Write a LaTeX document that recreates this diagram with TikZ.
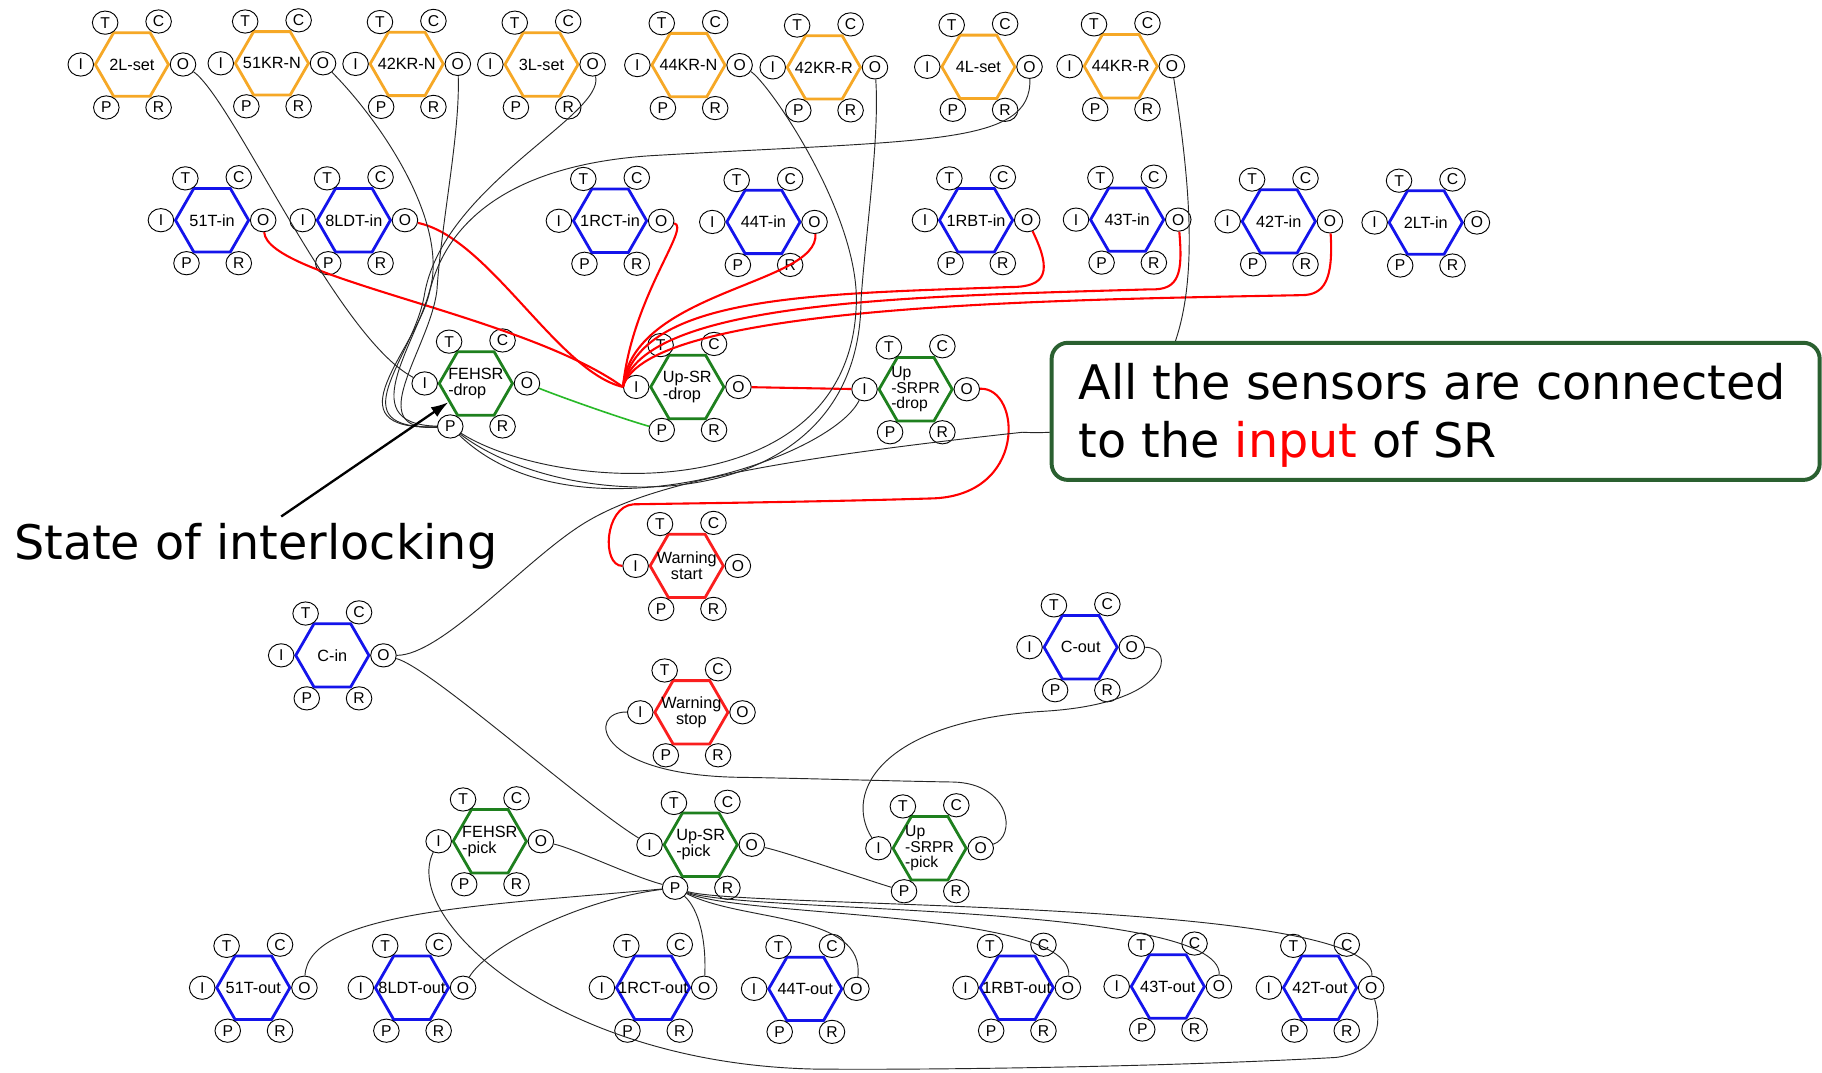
\documentclass[tikz,border=0pt]{standalone}
\usepackage{fontspec}
\newfontfamily\hexfont{Liberation Sans}
\newfontfamily\notefont{DejaVu Sans}
\usetikzlibrary{shapes.geometric, arrows.meta}
\definecolor{hexorange}{RGB}{246,168,38}
\definecolor{hexblue}{RGB}{20,20,235}
\definecolor{hexgreen}{RGB}{30,128,30}
\definecolor{hexred}{RGB}{250,30,30}
\definecolor{linkgreen}{RGB}{40,185,40}
\definecolor{boxgreen}{RGB}{42,96,48}
\tikzset{
  hexa/.style    = {regular polygon, regular polygon sides=6, minimum size=63pt,
                    inner sep=0pt, line width=2.4pt},
  hexlbl/.style  = {inner sep=0pt, font=\hexfont\fontsize{14}{14}\selectfont},
  tight/.style   = {font=\hexfont\fontsize{13.5}{13}\selectfont},
  port/.style    = {draw, ellipse, minimum width=22pt, minimum height=20pt, inner sep=0pt,
                    fill=white, line width=0.8pt, font=\hexfont\fontsize{13.5}{13.5}\selectfont},
  wire/.style    = {draw=black!85, line width=0.8pt},
  sig/.style     = {draw=red, line width=1.8pt},
  grnwire/.style = {draw=linkgreen, line width=1.4pt},
  pointer/.style = {-{Latex[length=15pt, width=10pt]}, line width=2pt},
  notefrm/.style = {draw=boxgreen, line width=3.4pt, rounded corners=14pt, fill=white,
                    minimum width=661pt, minimum height=118pt, inner sep=0pt},
  notetxt/.style = {font=\notefont\fontsize{41}{50}\selectfont, inner sep=0pt},
}
% one block: hexagon, its label and the six ports T C I O P R
\newcommand{\hexunit}[5]{%
  \node[hexa, draw=#3] (#1) at (#2) {};
  \node[hexlbl, #4] (#1-lbl) at (#1) {#5};
  \foreach \pn/\px/\py in {T/-23/-36, C/23/-37, I/-44/0, O/44/0, P/-22/37, R/23/37}
    \node[port] (#1-\pn) at ([shift={(\px,\py)}]#1) {\pn};
}

\begin{document}
\begin{tikzpicture}[x=1pt, y=-1pt]
  \path[use as bounding box, fill=white] (0,0) rectangle (1568,923);

  % set / lock inputs
  \hexunit{s2L}{113.5,55.5}{hexorange}{align=center}{2L-set}
  \hexunit{s51KRN}{234,54.5}{hexorange}{align=center}{51KR-N}
  \hexunit{s42KRN}{350,55}{hexorange}{align=center}{42KR-N}
  \hexunit{s3L}{466,55.5}{hexorange}{align=center}{3L-set}
  \hexunit{s44KRN}{592.5,56}{hexorange}{align=center}{44KR-N}
  \hexunit{s42KRR}{709,58}{hexorange}{align=center}{42KR-R}
  \hexunit{s4L}{842,57.5}{hexorange}{align=center}{4L-set}
  \hexunit{s44KRR}{964.5,57}{hexorange}{align=center}{44KR-R}

  % track sensors in
  \hexunit{i51T}{182.5,189.5}{hexblue}{align=center}{51T-in}
  \hexunit{i8LDT}{304.5,189.5}{hexblue}{align=center}{8LDT-in}
  \hexunit{i1RCT}{525,190}{hexblue}{align=center}{1RCT-in}
  \hexunit{i44T}{657,191}{hexblue}{align=center}{44T-in}
  \hexunit{i1RBT}{840,189.5}{hexblue}{align=center}{1RBT-in}
  \hexunit{i43T}{970,189}{hexblue}{align=center}{43T-in}
  \hexunit{i42T}{1100.5,190.5}{hexblue}{align=center}{42T-in}
  \hexunit{i2LT}{1227,191.5}{hexblue}{align=center}{2LT-in}

  % SR drop side
  \hexunit{fdrop}{409.5,330}{hexgreen}{align=left}{FEHSR\\-drop}
  \hexunit{udrop}{591.5,333}{hexgreen}{align=left}{Up-SR\\-drop}
  \hexunit{pdrop}{788,335}{hexgreen}{align=left, tight}{Up\\-SRPR\\-drop}

  \hexunit{wstart}{591,487}{hexred}{align=center}{Warning\\start}
  \hexunit{cin}{286,564}{hexblue}{align=center}{C-in}
  \hexunit{cout}{930,557}{hexblue}{align=center}{C-out}
  \hexunit{wstop}{595,613}{hexred}{align=center}{Warning\\stop}

  % SR pick side
  \hexunit{fpick}{421.5,724}{hexgreen}{align=left}{FEHSR\\-pick}
  \hexunit{upick}{603,727}{hexgreen}{align=left}{Up-SR\\-pick}
  \hexunit{ppick}{800,730}{hexgreen}{align=left, tight}{Up\\-SRPR\\-pick}

  % track sensors out
  \hexunit{o51T}{218,850}{hexblue}{align=center}{51T-out}
  \hexunit{o8LDT}{354.5,850}{hexblue}{align=center}{8LDT-out}
  \hexunit{o1RCT}{562,850}{hexblue}{align=center}{1RCT-out}
  \hexunit{o44T}{693,851}{hexblue}{align=center}{44T-out}
  \hexunit{o1RBT}{875,850}{hexblue}{align=center}{1RBT-out}
  \hexunit{o43T}{1005,849}{hexblue}{align=center}{43T-out}
  \hexunit{o42T}{1136,850}{hexblue}{align=center}{42T-out}

  % sensors into the SR input
  \draw[sig] (i51T-O) .. controls +(4,50) and +(-88,-63) .. (udrop-I.west);
  \draw[sig] (i8LDT-O) .. controls +(72,15) and +(-56,-13) .. (udrop-I.west);
  \draw[sig] (i1RCT-O) .. controls +(26,5) and +(8,-78) .. (udrop-I.west);
  \draw[sig] (i44T-O) .. controls +(4,54) and +(8,-83) .. (udrop-I.west);
  \draw[sig] (i1RBT-O) .. controls +(22,45) and +(30,0) .. (870,247)
             .. controls +(-170,6) and +(15,-79) .. (udrop-I.west);
  \draw[sig] (i43T-O) .. controls +(4,46) and +(25,1) .. (990,249)
             .. controls +(-200,6) and +(17,-75) .. (udrop-I.west);
  \draw[sig] (i42T-O) .. controls +(3,50) and +(20,0) .. (1120,254)
             .. controls +(-200,4) and +(20,-72) .. (udrop-I.west);
  \draw[sig] (udrop-O) -- (pdrop-I);
  \draw[sig] (pdrop-O) .. controls +(47,-2) and +(85,-1) .. (800,429)
             .. controls +(-100,3) and +(60,-1) .. (545,434)
             .. controls +(-25,2) and +(-18,0) .. (wstart-I.west);
  \draw[grnwire] (fdrop-O) .. controls +(30,12) and +(-35,-10) .. (udrop-P);

  % interlocking state
  \draw[wire] (s2L-O) .. controls +(43,30) and +(-76,-40) .. (fdrop-I);
  \draw[wire] (s51KRN-O) .. controls +(45,45) and +(8,-60) .. (372,240)
              .. controls +(-8,50) and +(-88,-2) .. (fdrop-P);
  \draw[wire] (s42KRN-O) .. controls +(2,60) and +(4,-60) .. (376,250)
              .. controls +(-6,50) and +(-78,5) .. (fdrop-P);
  \draw[wire] (s3L-O) .. controls +(11,44) and +(15,-95) .. (365,255)
              .. controls +(-10,55) and +(-98,3) .. (fdrop-P);
  \draw[wire] (s4L-O) .. controls +(2,68) and +(240,-14) .. (560,134)
              .. controls +(-120,8) and +(15,-60) .. (370,250)
              .. controls +(-10,50) and +(-108,4) .. (fdrop-P);
  \draw[wire] (s44KRN-O) .. controls +(24,14) and +(0,-78) .. (737,258)
              .. controls +(-2,182) and +(92,58) .. (fdrop-P);
  \draw[wire] (s42KRR-O) .. controls +(4,61) and +(4,-58) .. (741,258)
              .. controls +(-1,192) and +(102,78) .. (fdrop-P);
  \draw[wire] (pdrop-I) .. controls +(-29,60) and +(107,103) .. (fdrop-P);
  \draw[wire] (s44KRR-O) .. controls +(27,173) and +(160,8) .. (880,372)
              .. controls +(-240,26) and +(50,-32) .. (500,452)
              .. controls +(-50,32) and +(50,0) .. (cin-O);

  % pick side
  \draw[wire] (cin-O) .. controls +(40,10) and +(-60,-37) .. (upick-I);
  \draw[wire] (fpick-O) .. controls +(28,6) and +(-38,-10) .. (upick-P);
  \draw[wire] (upick-O) .. controls +(28,6) and +(-45,-14) .. (ppick-P);
  \draw[wire] (cout-O) .. controls +(38,0) and +(110,-7) .. (900,612)
              .. controls +(-140,8) and +(-31,-49) .. (ppick-I);
  \draw[wire] (wstop-I) .. controls +(-46,-1) and +(-130,-1) .. (640,669)
              .. controls +(60,1) and +(-60,-1) .. (820,673)
              .. controls +(50,1) and +(31,-10) .. (ppick-O);
  \draw[wire] (upick-P) .. controls +(-161,15) and +(3,-66) .. (o51T-O);
  \draw[wire] (upick-P) .. controls +(-81,10) and +(21,-36) .. (o8LDT-O);
  \draw[wire] (upick-P) .. controls +(20,18) and +(2,-42) .. (o1RCT-O);
  \draw[wire] (upick-P) .. controls +(59,30) and +(8,-66) .. (o44T-O);
  \draw[wire] (upick-P) .. controls +(59,26) and +(5,-67) .. (o1RBT-O);
  \draw[wire] (upick-P) .. controls +(59,22) and +(2,-72) .. (o43T-O);
  \draw[wire] (upick-P) .. controls +(59,18) and +(5,-77) .. (o42T-O);
  \draw[wire] (o42T-O) .. controls +(10,34) and +(35,-5) .. (1150,910)
              .. controls +(-140,8) and +(100,1) .. (700,920)
              .. controls +(-220,-5) and +(-33,67) .. (fpick-I);

  % notes
  \node[notetxt, anchor=base west] (statelbl) at (12,481.8) {State of interlocking};
  \coordinate (tailpt) at (242,444.5);
  \draw[pointer] (tailpt) -- (fdrop);

  \node[notefrm] (notebox) at (1235.5,354) {};
  \node[notetxt, anchor=base west] (noteone) at (928,344) {All the sensors are connected};
  \node[notetxt, anchor=base west] (notetwo) at (928,394) {to the \textcolor{red}{input} of SR};
\end{tikzpicture}
\end{document}
